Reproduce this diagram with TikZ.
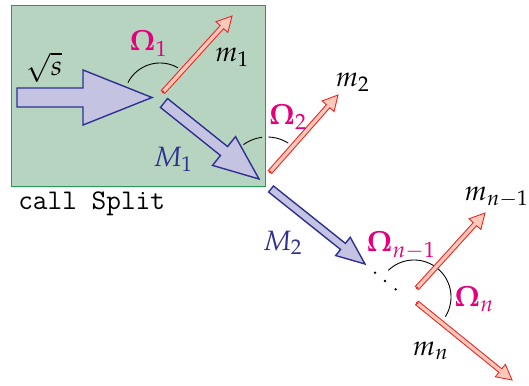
\documentclass[tikz,border=0pt]{standalone}
\usepackage{mathpazo}
\usetikzlibrary{calc}
\definecolor{boxfill}{RGB}{183,212,192}
\definecolor{boxline}{RGB}{30,160,80}
\definecolor{lav}{RGB}{196,196,226}
\definecolor{navy}{RGB}{46,49,146}
\definecolor{redline}{RGB}{237,40,36}
\definecolor{pinkfill}{RGB}{252,200,186}
\definecolor{mag}{RGB}{228,0,124}
% #1 style, #2 from, #3 to, #4 shaft half width, #5 head half width, #6 head length
\newcommand\fatarrow[6]{%
  \path[#1] ($(#2)!#4!90:(#3)$)
    -- ($($(#3)!#6!(#2)$)!#4!90:(#3)$)
    -- ($($(#3)!#6!(#2)$)!#5!90:(#3)$)
    -- (#3)
    -- ($($(#3)!#6!(#2)$)!#5!-90:(#3)$)
    -- ($($(#3)!#6!(#2)$)!#4!-90:(#3)$)
    -- ($(#2)!#4!-90:(#3)$) -- cycle;}
\newcommand\Om{\mathbf{\Omega}}
\begin{document}
\begin{tikzpicture}[x=1pt,y=-1pt,
  bigarrow/.style={draw=navy,fill=lav,line width=1.4pt,line join=miter},
  thinarrow/.style={draw=redline,fill=pinkfill,line width=0.9pt,line join=miter},
  tailmark/.style={fill=redline,draw=none},
  anglearc/.style={black,line width=0.9pt},
  splitbox/.style={draw=boxline,fill=boxfill,line width=1pt,inner sep=0pt,anchor=north west},
  omlabel/.style={text=mag,font=\fontsize{29}{34}\selectfont,inner sep=0pt,anchor=base},
  mlabel/.style={font=\fontsize{28}{34}\selectfont,inner sep=0pt,anchor=base},
  Mlabel/.style={text=navy,font=\fontsize{28}{34}\selectfont,inner sep=0pt,anchor=base},
  codelabel/.style={font=\fontsize{28.5}{34}\selectfont\ttfamily,inner sep=0pt,anchor=base}
]
\useasboundingbox (0,0) rectangle (529,385);
% box
\node[splitbox,minimum width=254pt,minimum height=181pt] (box) at (11,5) {};
% key points
\coordinate (s0) at (17,97.5);
\coordinate (t1) at (152,97.5);
\coordinate (r1a) at (163,92);
\coordinate (r1b) at (232,16);
\coordinate (M1a) at (164,103);
\coordinate (M1b) at (259,179);
\coordinate (r2a) at (270,172);
\coordinate (r2b) at (338,95);
\coordinate (M2a) at (271,189);
\coordinate (M2b) at (365,264);
\coordinate (r3a) at (417,288);
\coordinate (r3b) at (485,213);
\coordinate (r4a) at (417,303);
\coordinate (r4b) at (512,380);
% angle arcs
\draw[anglearc] plot[domain=60:153,samples=40] ({160+36*cos(\x)},{99-36*sin(\x)});
\draw[anglearc] plot[domain=58:88,samples=20] ({267+40*cos(\x)},{177-40*sin(\x)});
\draw[anglearc] plot[domain=97:126,samples=20] ({267+40*cos(\x)},{177-40*sin(\x)});
\draw[anglearc] plot[domain=-32:134,samples=60] ({414+37*cos(\x)},{297-37*sin(\x)});
% dots
\fill (375,272.7) circle[radius=1.3pt];
\fill (385,281) circle[radius=1.3pt];
\fill (395.7,289.3) circle[radius=1.3pt];
% big arrows
\fatarrow{bigarrow}{s0}{t1}{9.5pt}{27.5pt}{69pt}
\fatarrow{bigarrow}{M1a}{M1b}{5.7pt}{18.4pt}{44.8pt}
\fatarrow{bigarrow}{M2a}{M2b}{3.9pt}{11.7pt}{28.2pt}
% red arrows
\fatarrow{thinarrow}{r1a}{r1b}{2.3pt}{8pt}{15pt}
\fatarrow{thinarrow}{r2a}{r2b}{2.3pt}{8pt}{15pt}
\fatarrow{thinarrow}{r3a}{r3b}{2.3pt}{8pt}{15pt}
\fatarrow{thinarrow}{r4a}{r4b}{2.3pt}{8pt}{15pt}
\foreach \p in {r1a,r2a,r3a,r4a} \fill[tailmark] (\p) circle[radius=1.5pt];
% labels
\node[mlabel,anchor=center] (ls) at (44,67.5) {$\sqrt{s}$};
\node[omlabel] (lo1) at (148.3,50.7) {$\Om_1$};
\node[mlabel] (lm1) at (232,61.7) {$m_1$};
\node[Mlabel] (lM1) at (173,166) {$M_1$};
\node[omlabel] (lo2) at (287.8,124.3) {$\Om_2$};
\node[mlabel] (lm2) at (352.5,86.7) {$m_2$};
\node[Mlabel] (lM2) at (282.5,250) {$M_2$};
\node[omlabel] (lo3) at (401,251.7) {$\Om_{n-1}$};
\node[omlabel] (lo4) at (474,306.7) {$\Om_n$};
\node[mlabel,anchor=base east] (lm3) at (528.5,200) {$m_{n-1}$};
\node[mlabel] (lm4) at (430.5,355) {$m_n$};
\node[codelabel] (lcall) at (91.7,209.7) {call Split};
\end{tikzpicture}
\end{document}
